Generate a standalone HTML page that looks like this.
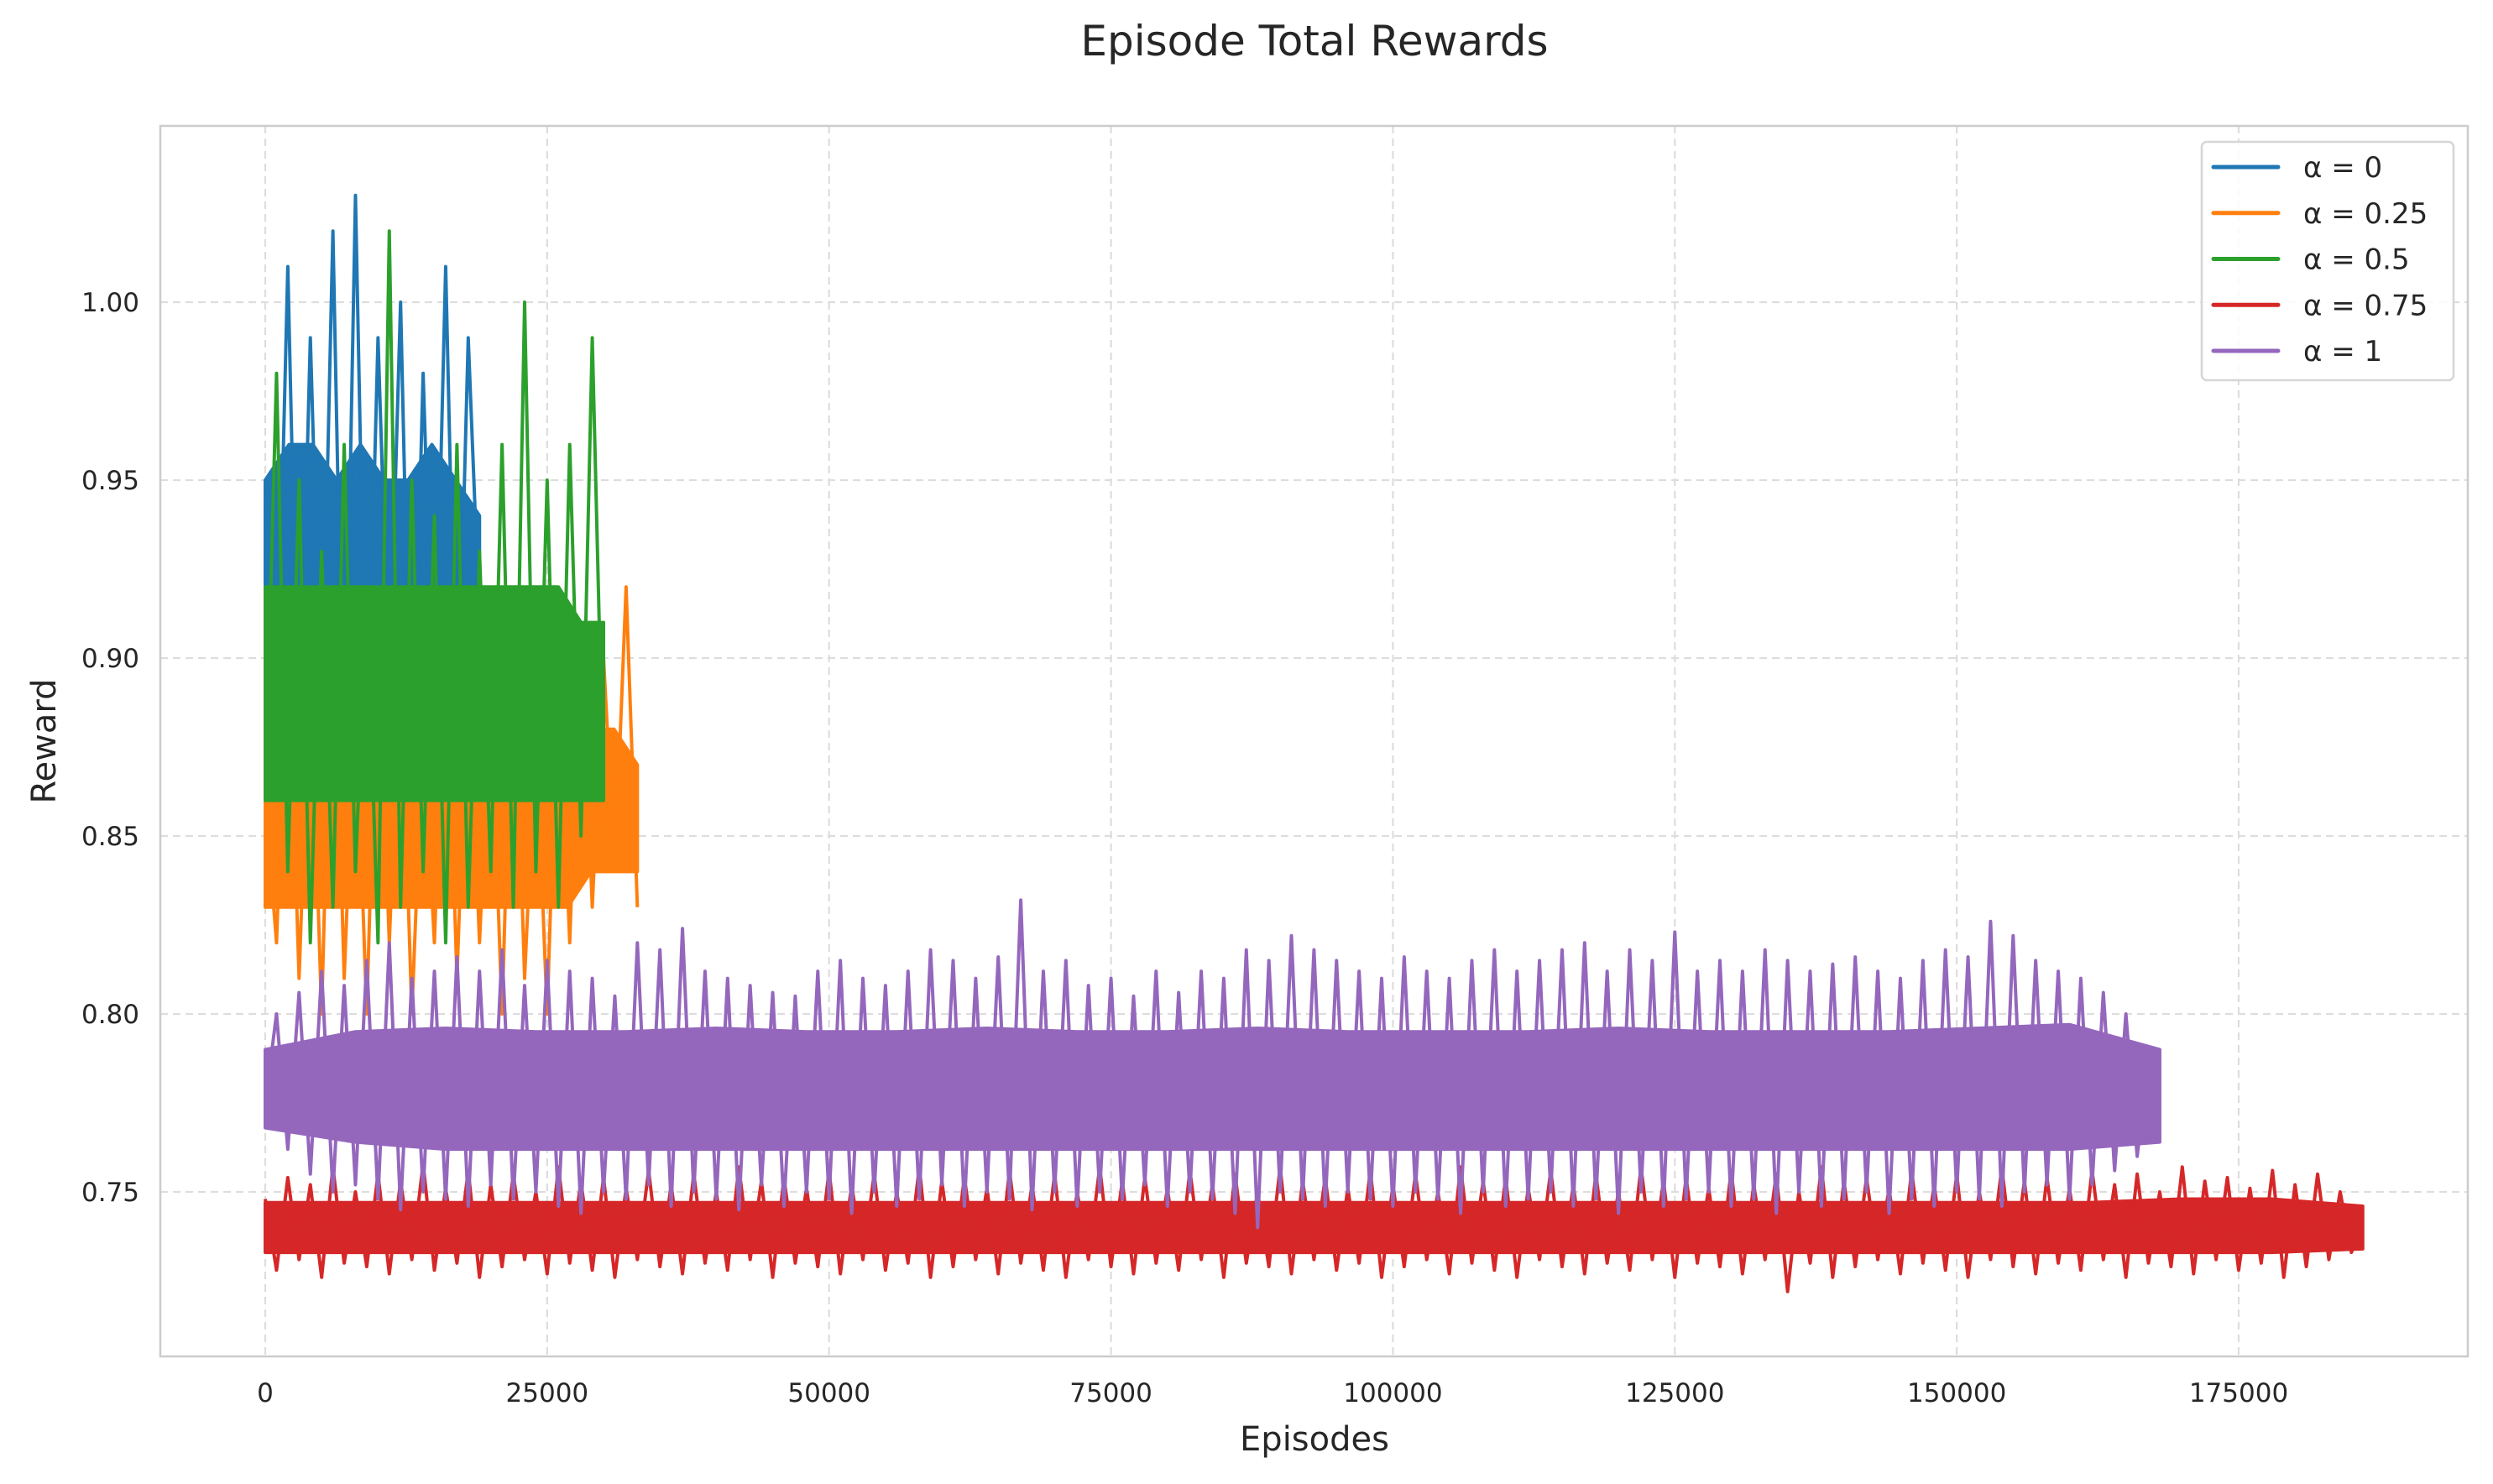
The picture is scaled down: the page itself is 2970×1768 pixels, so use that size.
<!DOCTYPE html>
<html><head><meta charset="utf-8"><style>
html,body{margin:0;padding:0;background:#fff;}
svg{display:block;font-family:"DejaVu Sans","Liberation Sans",sans-serif;}
</style></head><body>
<svg id="chart" width="2970" height="1768" viewBox="0 0 2970 1768" xmlns="http://www.w3.org/2000/svg">
<rect width="2970" height="1768" fill="#fff"/>
<g id="grid"></g>
<g id="series"></g>
<rect x="191" y="150" width="2749" height="1466" fill="none" stroke="#cccccc" stroke-width="2.5"/>
<g id="ticks"></g>
<text x="1566" y="66" text-anchor="middle" font-size="50" fill="#262626">Episode Total Rewards</text>
<text x="1566" y="1728" text-anchor="middle" font-size="40" fill="#262626">Episodes</text>
<text x="66" y="883" text-anchor="middle" font-size="40" fill="#262626" transform="rotate(-90 66 883)">Reward</text>
<g id="legend"></g>
</svg>
<script>
const xTicks=[0,25000,50000,75000,100000,125000,150000,175000];
const yTicks=[0.75,0.80,0.85,0.90,0.95,1.00];
const seriesNames=["α = 0","α = 0.25","α = 0.5","α = 0.75","α = 1"];
const seriesColors=["#1f77b4","#ff7f0e","#2ca02c","#d62728","#9467bd"];
const seriesStep=[1000,1000,1000,1000,1000];
const seriesEnd=[19000,33000,30000,186000,168000];
const blueVals=[0.92,0.88,1.01,0.87,0.99,0.88,1.02,0.86,1.03,0.87,0.99,0.89,1.00,0.86,0.98,0.88,1.01,0.87,0.99,0.91];
const blueLo=[0.89,0.88,0.88,0.89,0.88,0.88,0.89,0.89,0.88,0.89];
const blueHi=[0.95,0.96,0.96,0.95,0.96,0.95,0.95,0.96,0.95,0.94];
const orangeVals=[0.86,0.82,0.91,0.81,0.90,0.80,0.92,0.81,0.89,0.80,0.91,0.82,0.90,0.80,0.88,0.82,0.91,0.81,0.90,0.82,0.89,0.80,0.91,0.81,0.88,0.80,0.90,0.82,0.91,0.83,0.90,0.84,0.92,0.83];
const orangeLo=[0.83,0.83,0.83,0.83,0.83,0.83,0.83,0.83,0.83,0.83,0.83,0.83,0.83,0.83,0.84,0.84,0.84];
const orangeHi=[0.88,0.88,0.88,0.88,0.88,0.88,0.88,0.88,0.88,0.88,0.88,0.88,0.88,0.88,0.88,0.88,0.87];
const greenVals=[0.86,0.98,0.84,0.95,0.82,0.93,0.83,0.96,0.84,0.92,0.82,1.02,0.83,0.95,0.84,0.94,0.82,0.96,0.83,0.93,0.84,0.96,0.83,1.00,0.84,0.95,0.83,0.96,0.85,0.99,0.86];
const greenLo=[0.86,0.86,0.86,0.86,0.86,0.86,0.86,0.86,0.86,0.86,0.86,0.86,0.86,0.86,0.86,0.86];
const greenHi=[0.92,0.92,0.92,0.92,0.92,0.92,0.92,0.92,0.92,0.92,0.92,0.92,0.92,0.92,0.91,0.91];
const redVals=[
0.748,0.728,0.754,0.731,0.752,0.726,0.757,0.730,0.750,0.729,0.755,0.727,0.753,0.731,0.758,0.728,0.751,0.730,0.756,0.726,
0.752,0.729,0.755,0.731,0.750,0.727,0.757,0.730,0.753,0.728,0.754,0.726,0.751,0.731,0.756,0.729,0.752,0.727,0.755,0.730,
0.750,0.728,0.757,0.731,0.753,0.726,0.754,0.730,0.751,0.729,0.756,0.727,0.752,0.731,0.755,0.728,0.750,0.730,0.757,0.726,
0.753,0.729,0.754,0.731,0.751,0.727,0.756,0.730,0.752,0.728,0.755,0.726,0.750,0.731,0.757,0.729,0.753,0.727,0.754,0.730,
0.751,0.728,0.756,0.731,0.752,0.726,0.755,0.730,0.750,0.729,0.757,0.727,0.753,0.731,0.754,0.728,0.751,0.730,0.756,0.726,
0.752,0.729,0.755,0.731,0.750,0.727,0.757,0.730,0.753,0.728,0.754,0.726,0.751,0.731,0.756,0.729,0.752,0.727,0.755,0.730,
0.750,0.728,0.757,0.731,0.753,0.726,0.754,0.730,0.751,0.729,0.756,0.727,0.752,0.731,0.755,0.722,0.750,0.730,0.757,0.726,
0.753,0.729,0.754,0.731,0.751,0.727,0.756,0.730,0.752,0.728,0.755,0.726,0.750,0.731,0.757,0.729,0.753,0.727,0.754,0.730,
0.751,0.728,0.756,0.731,0.752,0.726,0.755,0.730,0.750,0.729,0.757,0.727,0.753,0.731,0.754,0.728,0.751,0.730,0.756,0.726,
0.752,0.729,0.755,0.731,0.750,0.733,0.742];
const redLo=[0.733,0.733,0.733,0.733,0.733,0.733,0.733,0.733,0.733,0.733,0.733,0.733,0.733,0.733,0.733,0.733,0.733,0.733,0.733,0.733,0.733,0.733,0.733,0.734];
const redHi=[0.747,0.747,0.747,0.747,0.747,0.747,0.747,0.747,0.747,0.747,0.747,0.747,0.747,0.747,0.747,0.747,0.747,0.747,0.747,0.747,0.747,0.748,0.748,0.746];
const purpleVals=[
0.775,0.800,0.762,0.806,0.755,0.812,0.750,0.808,0.752,0.815,0.748,0.820,0.745,0.810,0.750,0.812,0.748,0.816,0.746,0.812,
0.752,0.818,0.748,0.808,0.750,0.815,0.746,0.812,0.744,0.810,0.750,0.805,0.748,0.820,0.752,0.818,0.746,0.824,0.750,0.812,
0.748,0.810,0.745,0.808,0.752,0.806,0.746,0.805,0.750,0.812,0.748,0.815,0.744,0.810,0.750,0.808,0.746,0.812,0.748,0.818,
0.752,0.815,0.746,0.810,0.750,0.816,0.748,0.832,0.745,0.812,0.750,0.815,0.746,0.808,0.750,0.810,0.748,0.805,0.752,0.812,
0.746,0.806,0.750,0.812,0.748,0.810,0.744,0.818,0.740,0.815,0.750,0.822,0.748,0.818,0.746,0.815,0.750,0.812,0.748,0.810,
0.746,0.816,0.750,0.812,0.748,0.810,0.744,0.815,0.750,0.818,0.746,0.812,0.748,0.815,0.750,0.818,0.746,0.820,0.748,0.812,
0.744,0.818,0.750,0.815,0.746,0.823,0.748,0.812,0.750,0.815,0.746,0.812,0.748,0.818,0.744,0.815,0.750,0.812,0.746,0.814,
0.748,0.816,0.750,0.812,0.744,0.810,0.748,0.815,0.746,0.818,0.750,0.816,0.748,0.826,0.746,0.822,0.750,0.815,0.752,0.812,
0.748,0.810,0.752,0.806,0.756,0.800,0.760,0.788,0.770];
const purpleLo=[0.768,0.764,0.762,0.762,0.762,0.762,0.762,0.762,0.762,0.762,0.762,0.762,0.762,0.762,0.762,0.762,0.762,0.762,0.762,0.762,0.762,0.764];
const purpleHi=[0.790,0.795,0.796,0.795,0.795,0.796,0.795,0.795,0.796,0.795,0.795,0.796,0.795,0.795,0.795,0.796,0.795,0.795,0.795,0.796,0.797,0.790];
const allVals=[blueVals,orangeVals,greenVals,redVals,purpleVals];
const allLo=[blueLo,orangeLo,greenLo,redLo,purpleLo];
const allHi=[blueHi,orangeHi,greenHi,redHi,purpleHi];

const NS="http://www.w3.org/2000/svg";
function xs(e){return 316+e*(2351/175000);}
function ys(v){return 360+(1.0-v)*4240;}
function mk(tag,attrs,parent){const el=document.createElementNS(NS,tag);for(const k in attrs)el.setAttribute(k,attrs[k]);parent.appendChild(el);return el;}

const grid=document.getElementById('grid');
const ticks=document.getElementById('ticks');
xTicks.forEach(t=>{
  const l=mk('line',{x1:xs(t),x2:xs(t),y1:150,y2:1616,stroke:'#dddddd','stroke-width':2.2,'stroke-dasharray':'9,6'},grid);
  
  
  const tx=mk('text',{x:xs(t),y:1670,'text-anchor':'middle','font-size':31,fill:'#262626'},ticks);
  tx.textContent=String(t);
  
  
});
yTicks.forEach(t=>{
  const l=mk('line',{x1:191,x2:2940,y1:ys(t),y2:ys(t),stroke:'#dddddd','stroke-width':2.2,'stroke-dasharray':'9,6'},grid);
  
  
  const tx=mk('text',{x:166,y:ys(t)+11,'text-anchor':'end','font-size':31,fill:'#262626'},ticks);
  tx.textContent=t.toFixed(2);
  
  
});

const sg=document.getElementById('series');
allVals.forEach((vals,i)=>{
  const g=mk('g',{},sg);
  
  
  const lo=allLo[i],hi=allHi[i],bs=seriesEnd[i]/(lo.length-1);
  let pts=[];
  hi.forEach((v,j)=>pts.push(xs(j*bs)+','+ys(v)));
  for(let j=lo.length-1;j>=0;j--)pts.push(xs(j*bs)+','+ys(lo[j]));
  const band=mk('polygon',{points:pts.join(' '),fill:seriesColors[i],stroke:seriesColors[i],'stroke-width':4,'stroke-linejoin':'round'},g);
  
  
  const lp=vals.map((v,j)=>xs(j*seriesStep[i])+','+ys(v)).join(' ');
  const line=mk('polyline',{points:lp,fill:'none',stroke:seriesColors[i],'stroke-width':4,'stroke-linejoin':'round'},g);
  
  
});

const lg=document.getElementById('legend');
const box=mk('rect',{x:2623,y:169,width:300,height:284,rx:6,fill:'#ffffff','fill-opacity':0.85,stroke:'#d6d6d6','stroke-width':2.5},lg);


seriesNames.forEach((n,i)=>{
  const y=199+i*54.75;
  const l=mk('line',{x1:2637,x2:2714,y1:y,y2:y,stroke:seriesColors[i],'stroke-width':5,'stroke-linecap':'round'},lg);
  
  
  const t=mk('text',{x:2744,y:y+12,'font-size':34,fill:'#262626'},lg);
  t.textContent=n;
  
  
});
</script>
</body></html>
